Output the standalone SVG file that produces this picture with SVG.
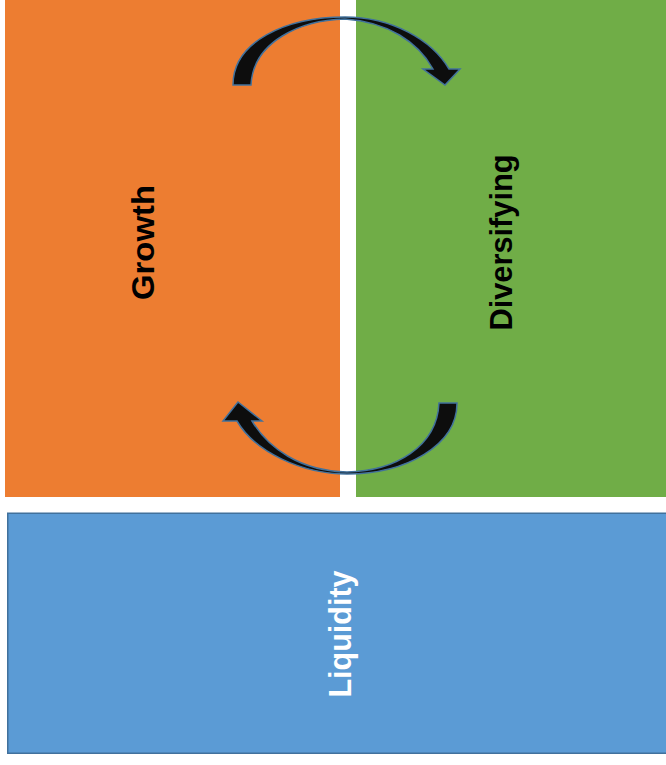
<svg xmlns="http://www.w3.org/2000/svg" width="666" height="765" viewBox="0 0 666 765">
  <style>
    .lbl { font-family: "Liberation Sans", Arial, sans-serif; font-weight: bold; font-size: 32px; text-anchor: middle; }
    .dark { fill: #000000; }
    .light { fill: #FFFFFF; }
    .arrow { fill: #0D0D0D; stroke: #41719C; stroke-width: 1.5; stroke-linejoin: miter; }
  </style>
  <rect x="0" y="0" width="666" height="765" fill="#FFFFFF"/>
  <g id="growth">
    <rect x="5" y="0" width="335" height="497" fill="#ED7D31"/>
    <text class="lbl dark" transform="translate(154,242.5) rotate(-90)" textLength="115" lengthAdjust="spacingAndGlyphs">Growth</text>
  </g>
  <g id="diversifying">
    <rect x="356" y="0" width="310" height="497" fill="#70AD47"/>
    <text class="lbl dark" transform="translate(512,242.5) rotate(-90)" textLength="176" lengthAdjust="spacingAndGlyphs">Diversifying</text>
  </g>
  <g id="liquidity">
    <rect x="7.75" y="513.25" width="660" height="240" fill="#5B9BD5" stroke="#41719C" stroke-width="1.5"/>
    <text class="lbl light" transform="translate(351,634) rotate(-90)" textLength="127" lengthAdjust="spacingAndGlyphs">Liquidity</text>
  </g>
  <g id="connectors">
    <path class="arrow" d="M233,85 C233,42 285,17 345,17 C392,17 432,40 449,69 L460,69 L445,85 L423,69 L433,69 C418,42 388,22 345,19 C300,20 253,42 251,85 Z"/>
    <path class="arrow" d="M457,403 C457,446 405,474 347,474 C302,474 255,452 237,421 L223,421 L238,402 L262,421 L252,421 C268,448 300,471 347,472 C395,471 437,447 439,403 Z"/>
  </g>
</svg>
